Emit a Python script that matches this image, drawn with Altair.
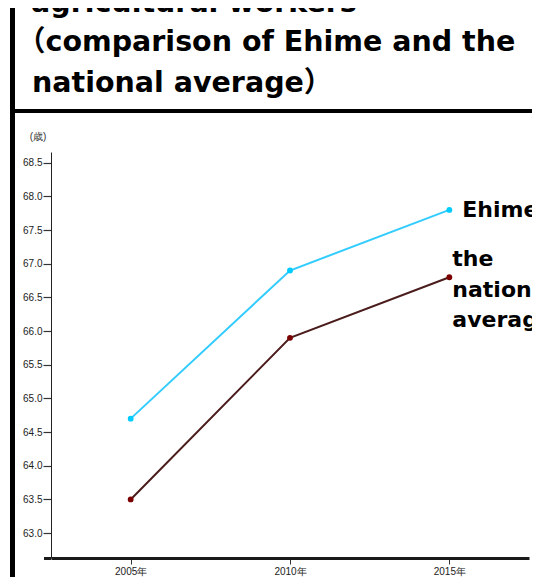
import altair as alt
import pandas as pd

# ---- data ----
years = [2005, 2010, 2015]
ehime_age = [64.7, 66.9, 67.8]
national_age = [63.5, 65.9, 66.8]
series_names = ["Ehime", "the national average"]
y_tick_values = [63.0, 63.5, 64.0, 64.5, 65.0, 65.5, 66.0, 66.5, 67.0, 67.5, 68.0, 68.5]
x_domain = [2002.5, 2017.5]
y_domain = [62.63, 68.66]
title_lines = ["agricultural workers", "（comparison of Ehime and the", "national average）"]
unit_label = "(歳)"
year_suffix = "年"
ehime_label = "Ehime"
national_label = "the\nnational\naverage"

line_colors = ["#33CCFF", "#4a1c1c"]
point_colors = ["#00CCFF", "#7a0000"]

df = pd.DataFrame({
    "year": years + years,
    "age": ehime_age + national_age,
    "series": [series_names[0]] * len(years) + [series_names[1]] * len(years),
})
label_df = pd.DataFrame({
    "year": [years[-1], years[-1]],
    "age": [ehime_age[-1], national_age[-1]],
    "label": [ehime_label, national_label],
})
one = pd.DataFrame({"k": [0]})

tick_font = "Liberation Sans, Arial, sans-serif"

x_enc = alt.X(
    "year:Q",
    scale=alt.Scale(domain=x_domain, nice=False, zero=False),
    axis=alt.Axis(
        values=years, labelExpr=f"datum.value + '{year_suffix}'", title=None, grid=False,
        domainWidth=3, domainColor="#1a1a1a", tickColor="#333333", tickSize=6, tickWidth=1,
        labelFont=tick_font, labelFontSize=10, labelColor="#222222", labelPadding=2,
    ),
)
y_enc = alt.Y(
    "age:Q",
    scale=alt.Scale(domain=y_domain, nice=False, zero=False),
    axis=alt.Axis(
        values=y_tick_values, format=".1f", title=None, grid=False,
        domainWidth=1, domainColor="#222222", tickColor="#333333", tickSize=8, tickWidth=1.2,
        labelFont=tick_font, labelFontSize=10, labelColor="#222222", labelPadding=1,
    ),
)

lines = alt.Chart(df).mark_line(strokeWidth=2).encode(
    x=x_enc, y=y_enc,
    color=alt.Color("series:N", scale=alt.Scale(domain=series_names, range=line_colors), legend=None),
)
points = alt.Chart(df).mark_point(filled=True, size=34, opacity=1, shape="circle").encode(
    x=x_enc, y=y_enc,
    fill=alt.Fill("series:N", scale=alt.Scale(domain=series_names, range=point_colors), legend=None),
)

ehime_text = alt.Chart(label_df).transform_filter(
    alt.datum.label == ehime_label
).mark_text(
    align="left", baseline="alphabetic", dx=13, dy=7,
    font="DejaVu Sans", fontWeight="bold", fontSize=22, color="#000000",
).encode(x=x_enc, y=y_enc, text="label:N")

national_text = alt.Chart(label_df).transform_filter(
    alt.datum.label == national_label
).mark_text(
    align="left", baseline="alphabetic", dx=3, dy=-11, lineBreak="\n", lineHeight=30.5,
    font="DejaVu Sans", fontWeight="bold", fontSize=22, color="#000000",
).encode(x=x_enc, y=y_enc, text="label:N")

title_y = [-140, -101, -60]
title_x = [-20, -34, -19]
title_layers = [
    alt.Chart(one).mark_text(
        align="left", baseline="alphabetic",
        font="DejaVu Sans, Noto Sans CJK JP, sans-serif", fontWeight="bold", fontSize=28.5, color="#000000",
    ).encode(x=alt.value(tx), y=alt.value(ty), text=alt.value(t))
    for t, tx, ty in zip(title_lines, title_x, title_y)
]

unit_text = alt.Chart(one).mark_text(
    align="center", baseline="middle", font=tick_font, fontSize=10, color="#333333",
).encode(x=alt.value(-13), y=alt.value(-15), text=alt.value(unit_label))

frame_left = alt.Chart(one).mark_rule(color="#000000", strokeWidth=5).encode(
    x=alt.value(-38.5), y=alt.value(-160), y2=alt.value(440))
frame_mid = alt.Chart(one).mark_rule(color="#000000", strokeWidth=4).encode(
    x=alt.value(-41), x2=alt.value(495), y=alt.value(-41))
frame_bottom = alt.Chart(one).mark_rule(color="#000000", strokeWidth=6).encode(
    x=alt.value(-45), x2=alt.value(495), y=alt.value(430))
x_axis_stub = alt.Chart(one).mark_rule(color="#1a1a1a", strokeWidth=3).encode(
    x=alt.value(-7), x2=alt.value(0), y=alt.value(406.5))

chart = alt.layer(
    lines, points, ehime_text, national_text, unit_text,
    frame_left, frame_mid, frame_bottom, x_axis_stub, *title_layers,
).properties(
    width=478, height=406,
    padding={"left": 43, "top": 144, "right": 3, "bottom": 19},
    autosize=alt.AutoSizeParams(type="none"),
    background="#ffffff",
).configure_view(stroke=None)

chart.save("out.html", embed_options={"renderer": "svg", "actions": False})
